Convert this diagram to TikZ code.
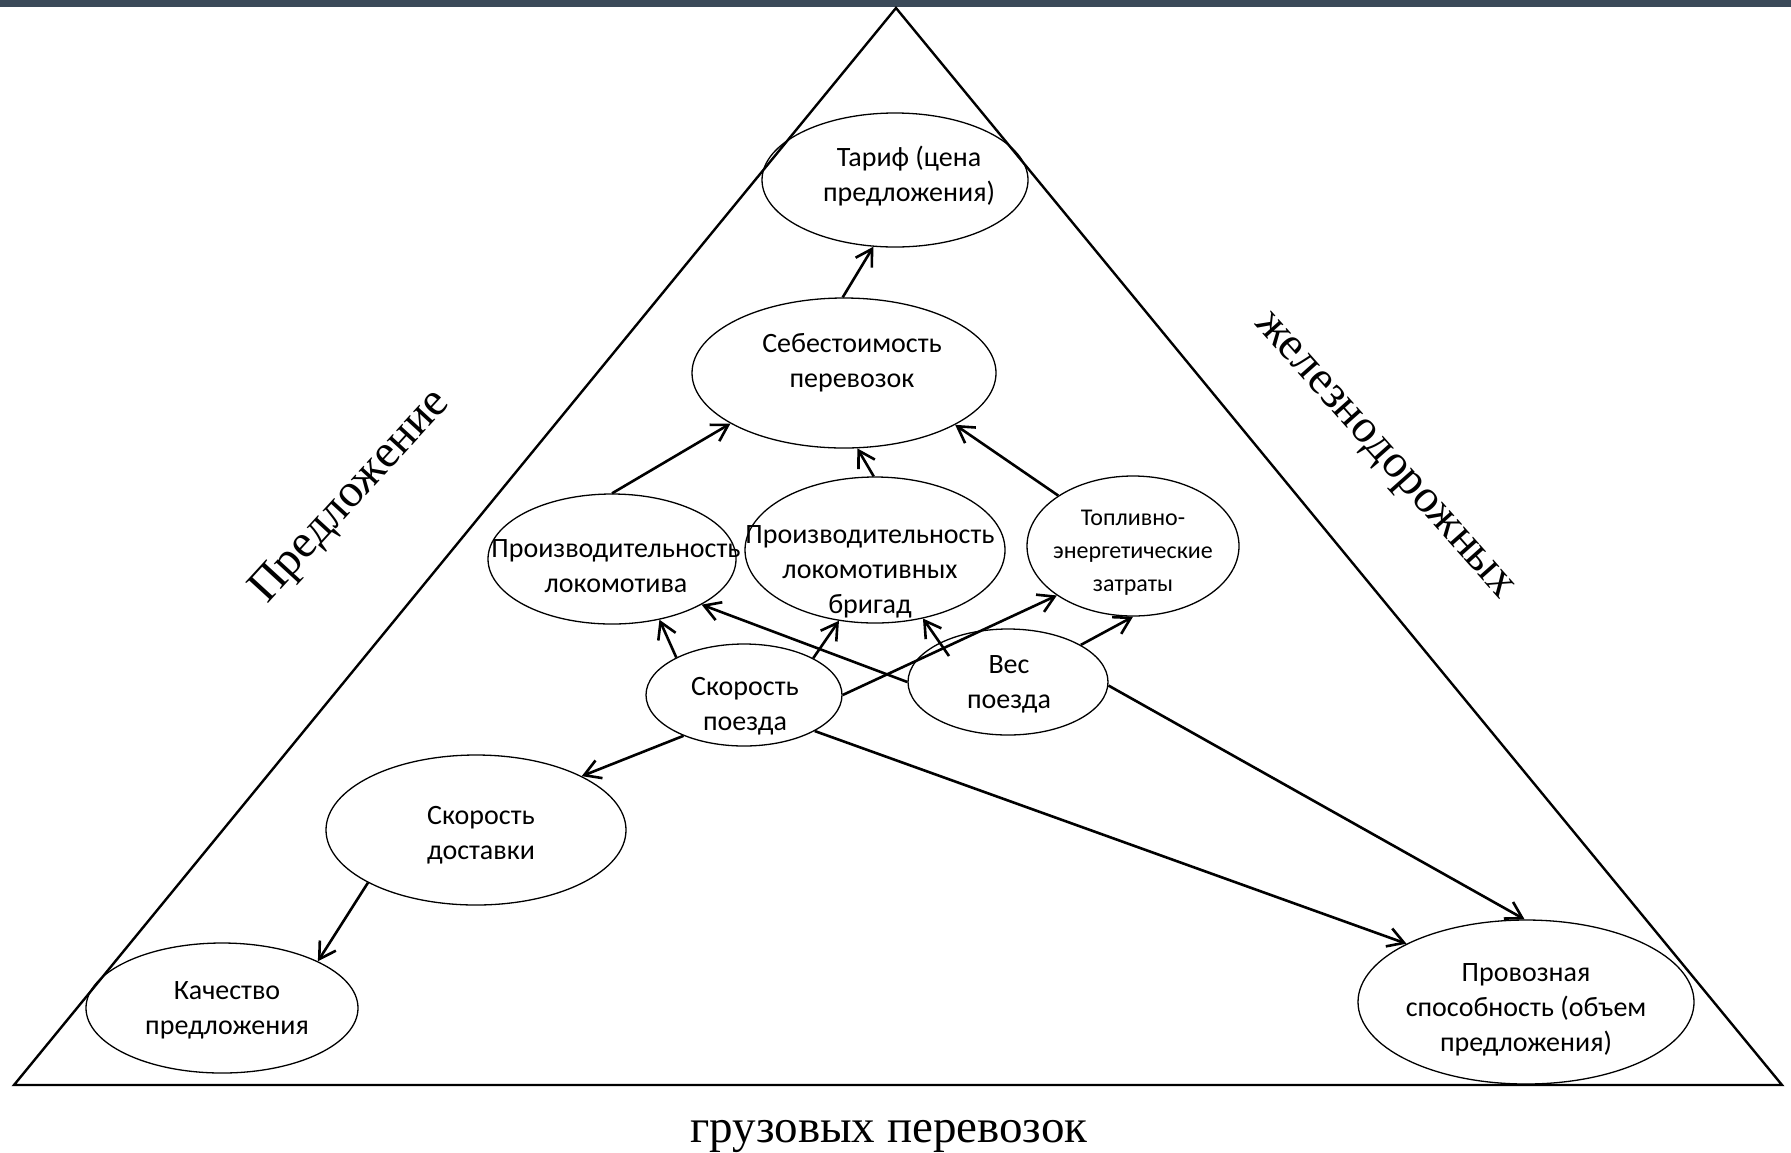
\documentclass[tikz,border=0pt]{standalone}
\usepackage{fontspec}
\setmainfont{Liberation Serif}
\newfontfamily\carlito{Carlito}
\usetikzlibrary{shapes.geometric,arrows.meta,calc}
\definecolor{barcol}{HTML}{3B4A59}
\tikzset{
  ell/.style={draw, ellipse, inner sep=0pt, line width=0.65pt},
  lbl/.style={align=center, inner sep=0pt, font=\carlito\fontsize{14}{17.5}\selectfont},
  lblsmall/.style={align=center, inner sep=0pt, font=\carlito\fontsize{12}{16.5}\selectfont},
  arr/.style={line width=1.3pt, -{Straight Barb[length=8pt,width=9.5pt]}},
  side/.style={inner sep=0pt, font=\fontsize{23.5}{28}\selectfont},
}
\begin{document}
\begin{tikzpicture}[x=0.5pt,y=-0.5pt]
\useasboundingbox (0,0) rectangle (1791,1152);
\fill[white] (0,0) rectangle (1791,1152);
\fill[barcol] (0,0) rectangle (1791,7);
% triangle
\coordinate (A) at (896,8);
\coordinate (B) at (14,1085);
\coordinate (C) at (1782,1085);
\draw[line width=1.2pt, line join=miter] (A) -- (B) -- (C) -- cycle;
% ellipses
\node[ell, minimum width=133pt, minimum height=67pt] (tar) at (895,180) {};
\node[ell, minimum width=152pt, minimum height=75pt] (seb) at (844,373) {};
\node[ell, minimum width=124pt, minimum height=65pt] (plok) at (612,559) {};
\node[ell, minimum width=130pt, minimum height=73pt] (brig) at (875,550) {};
\node[ell, minimum width=106pt, minimum height=70pt] (topl) at (1133,546) {};
\node[ell, minimum width=98pt, minimum height=51pt] (skp) at (744,695) {};
\node[ell, minimum width=100pt, minimum height=53pt] (ves) at (1008,682) {};
\node[ell, minimum width=150pt, minimum height=75pt] (skd) at (476,830) {};
\node[ell, minimum width=136pt, minimum height=65pt] (kach) at (222,1008) {};
\node[ell, minimum width=168pt, minimum height=82pt] (prov) at (1526,1002) {};
% texts
\node[lbl] (tart) at (909,176) {Тариф (цена\\предложения)};
\node[lbl] (sebt) at (852,363) {Себестоимость\\перевозок};
\node[lbl] (plokt) at (616,566) {Производительность\\локомотива};
\node[lbl] (brigt) at (870,572) {Производительность\\локомотивных\\бригад};
\node[lblsmall] (toplt) at (1133,553) {Топливно-\\энергетические\\затраты};
\node[lbl] (skpt) at (745,706) {Скорость\\поезда};
\node[lbl] (vest) at (1009,684) {Вес\\поезда};
\node[lbl] (skdt) at (481,835) {Скорость\\доставки};
\node[lbl] (kacht) at (227,1010) {Качество\\предложения};
\node[lbl] (provt) at (1526,1010) {Провозная\\способность (объем\\предложения)};
% side labels
\node[side, rotate=47.5] (s1) at (351,497) {Предложение};
\node[side, rotate=-48.3] (s2) at (1382,458) {железнодорожных};
\node[side, anchor=base] (s3) at (889,1142) {грузовых перевозок};
% arrows
\draw[arr] (seb.91) -- (tar.252);
\draw[arr] (plok.90) -- (seb.204.6);
\draw[arr] (brig.91) -- (seb.280.4);
\draw[arr] (topl.146.8) -- (seb.335);
\draw[arr] (skp.151) -- (plok.308);
\draw[arr] (skp.28) -- (brig.243.7);
\draw[arr] ($(ves)+(-59,-26)$) -- (brig.305.6);
\draw[arr] (ves.180) -- (plok.333);
\draw[arr] (skp.0) -- (topl.213);
\draw[arr] (ves.27) -- (topl.270);
\draw[arr] (ves.358) -- (prov.91);
\draw[arr] (skp.333) -- (prov.154.2);
\draw[arr] (skp.214.5) -- (skd.27.2);
\draw[arr] (skd.206) -- (kach.26.6);
\end{tikzpicture}
\end{document}
